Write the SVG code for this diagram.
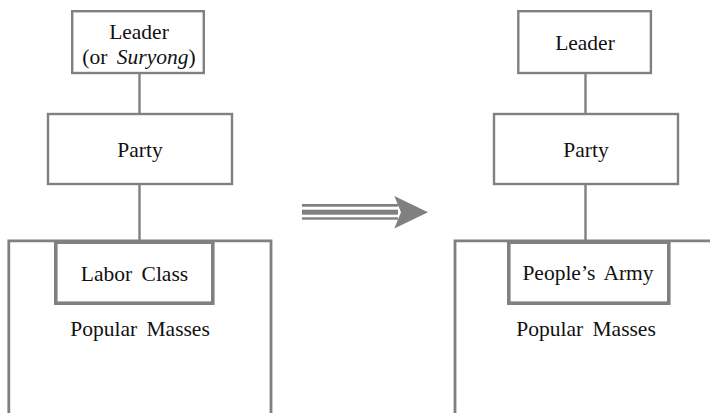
<svg xmlns="http://www.w3.org/2000/svg" width="710" height="413" viewBox="0 0 710 413">
  <style>
    .box { fill: #ffffff; stroke: #808080; stroke-width: 2.4; }
    .thick { fill: #ffffff; stroke: #808080; stroke-width: 3.6; }
    .frame { fill: none; stroke: #808080; stroke-width: 2.8; }
    .link { stroke: #808080; stroke-width: 2.4; fill: none; }
    .lbl { font-family: 'Liberation Serif', 'Times New Roman', Times, serif; font-size: 21.5px; fill: #111111; text-anchor: middle; word-spacing: 4px; }
  </style>
  <rect width="710" height="413" fill="#ffffff"/>

  <!-- connectors -->
  <g id="connectors">
    <line class="link" x1="139.5" y1="73" x2="139.5" y2="114"/>
    <line class="link" x1="139.5" y1="184" x2="139.5" y2="240"/>
    <line class="link" x1="585.5" y1="73" x2="585.5" y2="114"/>
    <line class="link" x1="585.5" y1="184" x2="585.5" y2="240"/>
  </g>

  <!-- left structure -->
  <g id="left-masses">
    <path class="frame" d="M8.8,413 V240.8 H271 V413"/>
    <text class="lbl" x="140" y="336">Popular Masses</text>
  </g>
  <g id="left-leader">
    <rect class="box" x="72.2" y="11.2" width="131.6" height="61.8"/>
    <text class="lbl" x="139" y="39">Leader</text>
    <text class="lbl" x="139" y="64">(or <tspan font-style="italic">Suryong</tspan>)</text>
  </g>
  <g id="left-party">
    <rect class="box" x="48" y="114" width="184" height="70"/>
    <text class="lbl" x="140" y="157">Party</text>
  </g>
  <g id="left-core">
    <rect class="thick" x="55.8" y="242.2" width="157" height="61"/>
    <text class="lbl" x="134.5" y="281">Labor Class</text>
  </g>

  <!-- transition arrow: three shafts and a head -->
  <g id="transition-arrow" fill="#808080">
    <rect x="302" y="204" width="96" height="2.7"/>
    <rect x="302" y="209.7" width="96" height="5"/>
    <rect x="302" y="217.3" width="96" height="2.4"/>
    <polygon points="394.3,196 428,212.2 394.3,228.4 401,212.2"/>
  </g>

  <!-- right structure -->
  <g id="right-masses">
    <path class="frame" d="M455,413 V240.8 H712"/>
    <text class="lbl" x="586" y="336">Popular Masses</text>
  </g>
  <g id="right-leader">
    <rect class="box" x="518.3" y="11.2" width="132.6" height="61.8"/>
    <text class="lbl" x="585" y="50">Leader</text>
  </g>
  <g id="right-party">
    <rect class="box" x="494" y="114" width="184" height="70"/>
    <text class="lbl" x="586" y="157">Party</text>
  </g>
  <g id="right-core">
    <rect class="thick" x="508.8" y="242.2" width="160" height="61"/>
    <text class="lbl" x="588" y="280">People’s Army</text>
  </g>
</svg>
